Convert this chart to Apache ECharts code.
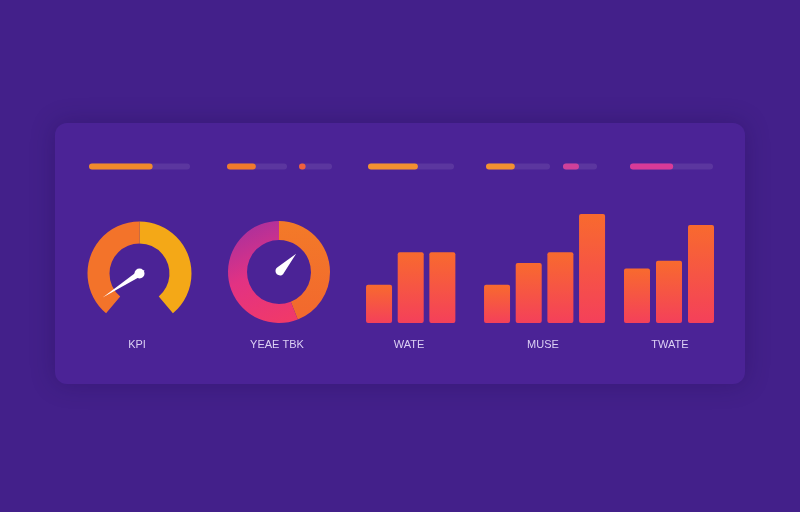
<!DOCTYPE html>
<html>
<head>
<meta charset="utf-8">
<script src="https://cdn.jsdelivr.net/npm/echarts@6/dist/echarts.min.js"></script>
<style>
  html, body { margin: 0; padding: 0; background: #43208a; }
  #main { width: 800px; height: 512px; }
</style>
</head>
<body>
<div id="main"></div>
<script>
// 面板上的数据
const labels = ['KPI', 'YEAE TBK', 'WATE', 'MUSE', 'TWATE']
// 顶部进度条（百分比）
const progressValues = [63, 48, 20, 58, 45, 47, 52]
// 仪表盘
const kpiValue = 6
const ringParts = [44, 56]
const ringPointer = 12
// 柱状图
const wateValues = [35, 65, 65]
const museValues = [35, 55, 65, 100]
const twateValues = [50, 57, 90]

const chart = echarts.init(document.getElementById('main'))

const barColor = new echarts.graphic.LinearGradient(0, 0, 0, 1, [
  { offset: 0, color: '#f86a2e' },
  { offset: 1, color: '#f4405a' }
])

// 进度条布局: [left, width, color]
const progressLayout = [
  [89, 101, '#f08a2c'],
  [227, 60, '#f07a2c'],
  [299, 33, '#f0603c'],
  [368, 86, '#f39030'],
  [486, 64, '#f39030'],
  [563, 34, '#d0409a'],
  [630, 83, '#d93a98']
]

const grids = []
const xAxes = []
const yAxes = []
const series = []

progressLayout.forEach((p, i) => {
  grids.push({ left: p[0], width: p[1], top: 163.5, height: 6 })
  xAxes.push({ type: 'value', gridIndex: i, min: 0, max: 100, show: false })
  yAxes.push({ type: 'category', gridIndex: i, data: ['p'], show: false })
  series.push({
    type: 'bar',
    xAxisIndex: i,
    yAxisIndex: i,
    barWidth: 6,
    data: [progressValues[i]],
    showBackground: true,
    backgroundStyle: { color: 'rgba(255,255,255,0.09)', borderRadius: 3 },
    itemStyle: { color: p[2], borderRadius: 3 },
    silent: true
  })
})

// 柱状图布局: [left, width, data]
const barLayout = [
  [363.2, 95, wateValues],
  [481.2, 126.7, museValues],
  [621, 96, twateValues]
]
barLayout.forEach((b) => {
  const i = grids.length
  grids.push({ left: b[0], width: b[1], top: 214, bottom: 189 })
  xAxes.push({ type: 'category', gridIndex: i, data: b[2].map((v, k) => k), show: false })
  yAxes.push({ type: 'value', gridIndex: i, min: 0, max: 100, show: false })
  series.push({
    type: 'bar',
    xAxisIndex: i,
    yAxisIndex: i,
    barWidth: 26,
    data: b[2],
    itemStyle: { color: barColor, borderRadius: 2 },
    silent: true
  })
})

// KPI 仪表盘
series.push({
  type: 'gauge',
  center: [139.5, 273.5],
  radius: 52,
  startAngle: 230,
  endAngle: -50,
  min: 0,
  max: 100,
  axisLine: {
    lineStyle: {
      width: 22,
      color: [
        [0.5, '#f3732a'],
        [1, '#f4a817']
      ]
    }
  },
  splitLine: { show: false },
  axisTick: { show: false },
  axisLabel: { show: false },
  detail: { show: false },
  title: { show: false },
  pointer: {
    length: 44,
    width: 3,
    itemStyle: { color: '#ffffff' }
  },
  anchor: {
    show: true,
    size: 10,
    itemStyle: { color: '#ffffff' }
  },
  data: [{ value: kpiValue }]
})

// 环形图
series.push({
  type: 'pie',
  center: [279, 272],
  radius: [32, 51],
  startAngle: 90,
  label: { show: false },
  labelLine: { show: false },
  silent: true,
  data: [
    {
      value: ringParts[0],
      itemStyle: {
        color: new echarts.graphic.LinearGradient(0, 0, 0, 1, [
          { offset: 0, color: '#f37a28' },
          { offset: 1, color: '#f2682e' }
        ])
      }
    },
    {
      value: ringParts[1],
      itemStyle: {
        color: new echarts.graphic.LinearGradient(1, 1, 0.3, 0, [
          { offset: 0, color: '#f23a66' },
          { offset: 0.55, color: '#e23283' },
          { offset: 1, color: '#a8309e' }
        ])
      }
    }
  ]
})

// 环形图里的指针
series.push({
  type: 'gauge',
  center: [279, 272],
  radius: 32,
  startAngle: 90,
  endAngle: -270,
  min: 0,
  max: 100,
  axisLine: { show: false },
  splitLine: { show: false },
  axisTick: { show: false },
  axisLabel: { show: false },
  detail: { show: false },
  title: { show: false },
  pointer: {
    icon: 'path://M50,0 L64,78 A15,15 0 1 1 36,78 Z',
    length: 28,
    width: 9,
    offsetCenter: [0, 3],
    itemStyle: { color: '#ffffff' }
  },
  data: [{ value: ringPointer }]
})

const labelX = [137, 277, 409, 543, 670]

const options = {
  backgroundColor: '#43208a',
  animation: false,
  graphic: [
    {
      type: 'rect',
      z: -10,
      silent: true,
      shape: { x: 55, y: 123, width: 690, height: 261, r: 12 },
      style: {
        fill: '#4b2396',
        shadowBlur: 24,
        shadowColor: 'rgba(20,0,60,0.25)'
      }
    }
  ].concat(labels.map((t, i) => ({
    type: 'text',
    x: labelX[i],
    y: 345,
    silent: true,
    style: {
      text: t,
      align: 'center',
      verticalAlign: 'middle',
      fill: '#dcd0f4',
      font: '11px "Liberation Sans", sans-serif'
    }
  }))),
  grid: grids,
  xAxis: xAxes,
  yAxis: yAxes,
  series: series
}

chart.setOption(options)
</script>
</body>
</html>
